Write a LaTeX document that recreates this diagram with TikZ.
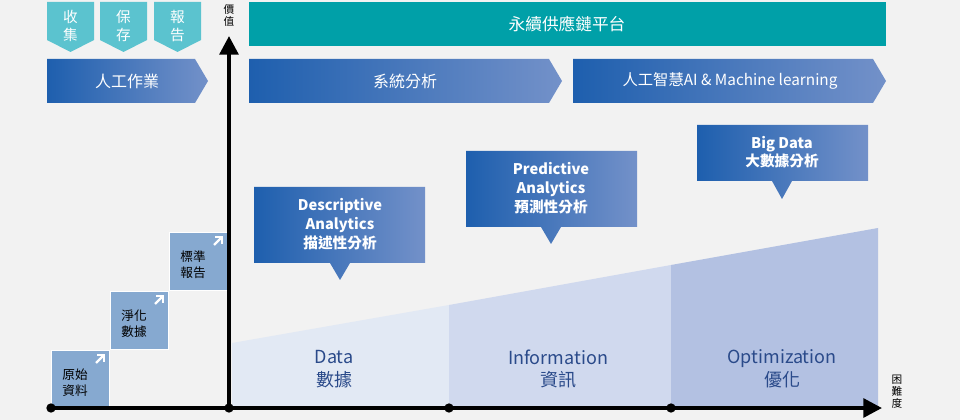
\documentclass[tikz,border=0pt]{standalone}
\usepackage{fontspec}
\setmainfont{Noto Sans CJK TC}
\usetikzlibrary{arrows.meta}
\definecolor{bg}{HTML}{F2F2F2}
\definecolor{teal}{HTML}{00A0A8}
\definecolor{tag}{HTML}{5BC3CF}
\definecolor{bdark}{HTML}{1E5FAE}
\definecolor{blight}{HTML}{7391C9}
\definecolor{stepc}{HTML}{86A9D0}
\definecolor{rA}{HTML}{E2E9F4}
\definecolor{rB}{HTML}{D0D9EE}
\definecolor{rC}{HTML}{B3C1E2}
\definecolor{txtb}{HTML}{2A4A8A}
\tikzset{
 wt/.style={text=white,font=\fontsize{11}{13}\selectfont},
 grad/.style={left color=bdark,right color=blight},
 dotc/.style={circle,fill=black,inner sep=0pt,minimum size=7pt},
 stepbox/.style={fill=stepc,draw=white,line width=0.6pt},
 stxt/.style={font=\fontsize{9.5}{12}\selectfont,align=center,text=black},
 rtxt/.style={text=txtb,font=\fontsize{13.5}{17}\selectfont,align=center},
 ctxt/.style={text=white,font=\fontsize{11}{14}\selectfont\bfseries,align=center},
}
\begin{document}
\begin{tikzpicture}[x=0.75pt,y=-0.75pt]
\fill[bg] (0,0) rectangle (960,420);
\useasboundingbox (0,0) rectangle (960,420);
% regions
\fill[rA] (232,343) -- (449,305) -- (449,408) -- (232,408) -- cycle;
\fill[rB] (449,305) -- (671,265) -- (671,408) -- (449,408) -- cycle;
\fill[rC] (671,265) -- (878,228) -- (878,408) -- (671,408) -- cycle;
\node[rtxt] (d) at (334,369) {Data\\數據};
\node[rtxt] (i) at (558,369) {Information\\資訊};
\node[rtxt] (o) at (782,369) {Optimization\\優化};
% banner
\fill[teal] (249,2) rectangle (886,46);
\node[wt,font=\fontsize{12.5}{14}\selectfont] (ban) at (567,24) {永續供應鏈平台};
% tags
\foreach \x/\t [count=\i] in {47/收\\集,100/保\\存,154/報\\告}{
 \fill[tag] (\x,2) -- (\x+47,2) -- (\x+47,40) -- (\x+23.5,52) -- (\x,40) -- cycle;
 \node[wt,align=center,font=\fontsize{11}{13}\selectfont] (tag\i) at (\x+23.5,26) {\t};
}
% chevrons
\shade[grad] (47,59) -- (195,59) -- (208,81) -- (195,103) -- (47,103) -- cycle;
\node[wt,font=\fontsize{12}{14}\selectfont] (c1) at (127,81) {人工作業};
\shade[grad] (249,59) -- (549,59) -- (562,81) -- (549,103) -- (249,103) -- cycle;
\node[wt,font=\fontsize{12}{14}\selectfont] (c2) at (405,81) {系統分析};
\shade[grad] (573,59) -- (873,59) -- (886,81) -- (873,103) -- (573,103) -- cycle;
\node[wt,font=\fontsize{11.5}{14}\selectfont] (c3) at (730,81) {人工智慧AI \& Machine learning};
% callouts
\shade[grad] (254,187) -- (425,187) -- (425,263) -- (350,263) -- (340,280) -- (330,263) -- (254,263) -- cycle;
\node[ctxt] (k1) at (340,224) {Descriptive\\Analytics\\描述性分析};
\shade[grad] (466,151) -- (637,151) -- (637,227) -- (561,227) -- (551,244) -- (541,227) -- (466,227) -- cycle;
\node[ctxt] (k2) at (551,188) {Predictive\\Analytics\\預測性分析};
\shade[grad] (697,125) -- (868,125) -- (868,181) -- (792,181) -- (782,199) -- (772,181) -- (697,181) -- cycle;
\node[ctxt] (k3) at (782,152) {Big Data\\大數據分析};
% steps
\foreach \x/\y/\t [count=\i] in {51/350/原始\\資料,110/291/淨化\\數據,169/232/標準\\報告}{
 \draw[stepbox] (\x,\y) rectangle (\x+58,\y+58);
 \node[stxt] (s\i) at (\x+24,\y+33) {\t};
 \draw[white,line width=1.6pt] (\x+46,\y+5) -- (\x+53,\y+5) -- (\x+53,\y+12);
 \draw[white,line width=1.6pt] (\x+53,\y+5) -- (\x+45,\y+13);
}
% axes
\node[dotc] (p0) at (51,408) {};
\node[dotc] (p1) at (229,408) {};
\node[dotc] (p2) at (449,408) {};
\node[dotc] (p3) at (671,408) {};
\coordinate (xe) at (882,408);
\coordinate (ye) at (229,36);
\draw[line width=3pt,-{Triangle[length=14pt,width=14pt]}] (p0.center) -- (xe);
\draw[line width=3pt,-{Triangle[length=14pt,width=14pt]}] (p1.center) -- (ye);
\node[font=\fontsize{8}{9}\selectfont,align=center] (yl) at (229,15) {價\\值};
\node[font=\fontsize{8}{9}\selectfont,align=center] (xl) at (897,392) {困\\難\\度};
\end{tikzpicture}
\end{document}
